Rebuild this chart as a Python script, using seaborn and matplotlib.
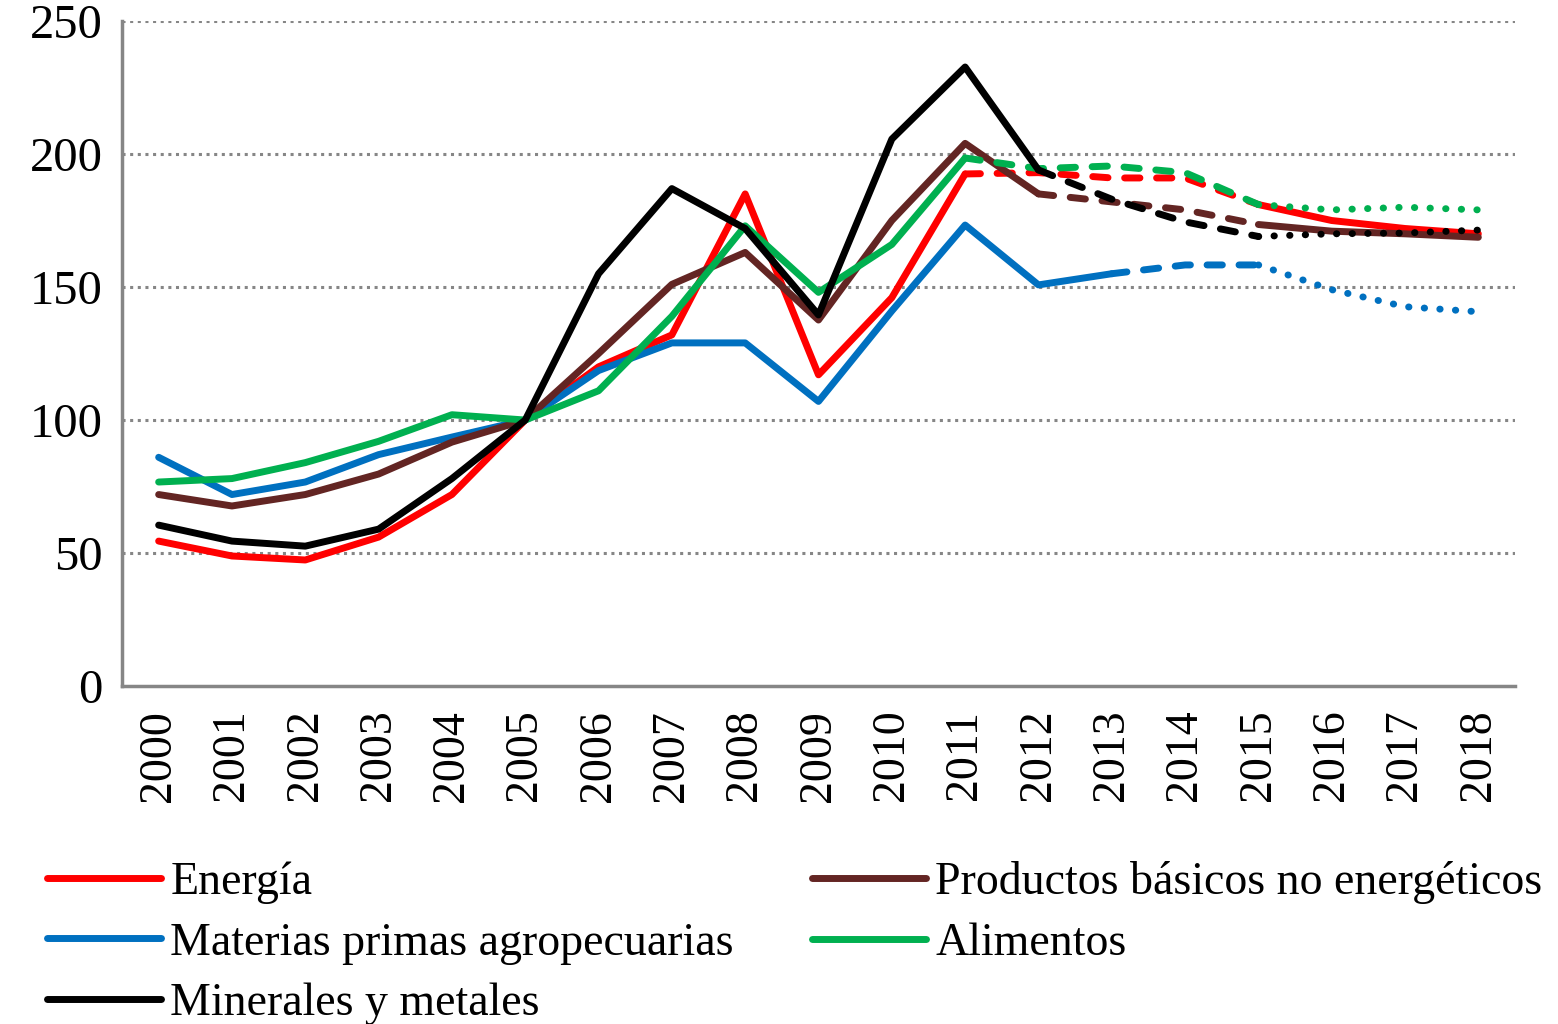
import seaborn as sns
import matplotlib.pyplot as plt
from matplotlib.lines import Line2D
import pandas as pd

years = list(range(2000, 2019))

energia = [54.5, 48.9, 47.4, 56, 72, 100, 120, 132, 185, 117, 146, 192.5, 193, 191, 191, 181, 175, 172, 170]
materias = [86, 72, 76.7, 87, 93.6, 100, 118.6, 129, 129, 107, 141, 173.3, 150.8, 155, 158.3, 158.3, 149, 142.6, 140.7]
minerales = [60.5, 54.5, 52.6, 59, 78, 100, 155, 187, 172, 139.5, 205.6, 232.7, 194, 183, 174.5, 169, 170, 170.3, 171.4]
productos = [72, 67.7, 72, 79.7, 91.7, 100, 125, 151, 163, 137.6, 175, 204, 185, 182, 179, 173.5, 171, 170, 168.7]
alimentos = [76.7, 78, 84, 92, 102, 100, 111, 139, 173, 148, 166, 198.5, 194.5, 195.5, 193, 181, 179, 180, 179]

labels = ["Energía", "Materias primas agropecuarias", "Minerales y metales",
          "Productos básicos no energéticos", "Alimentos"]
colors = ["#FF0000", "#0070C0", "#000000", "#632523", "#00B050"]

# line segments: (from year, to year, style)
segments = {
    "Energía": [(2000, 2011, "solid"), (2011, 2015, "dash"), (2015, 2018, "solid")],
    "Materias primas agropecuarias": [(2000, 2013, "solid"), (2013, 2015, "dash"), (2015, 2018, "dot")],
    "Minerales y metales": [(2000, 2012, "solid"), (2012, 2015, "dash"), (2015, 2018, "dot")],
    "Productos básicos no energéticos": [(2000, 2012, "solid"), (2012, 2015, "dash"), (2015, 2018, "solid")],
    "Alimentos": [(2000, 2011, "solid"), (2011, 2015, "dash"), (2015, 2018, "dot")],
}

series = dict(zip(labels, [energia, materias, minerales, productos, alimentos]))
df = pd.DataFrame({"year": years, **series})

sns.set_theme(style="white")
plt.rcParams["font.family"] = ["Liberation Serif", "DejaVu Serif"]
plt.rcParams["text.color"] = "black"
plt.rcParams["xtick.labelcolor"] = "black"
plt.rcParams["ytick.labelcolor"] = "black"

fig = plt.figure(figsize=(15.58, 10.24), dpi=100)
ax = fig.add_axes([0.0783, 0.330, 0.8941, 0.6495])

lw = 5.0
styles = {"solid": "-", "dash": (0, (2.2, 2.4)), "dot": (0, (0.05, 2.2))}
draw_order = ["Energía", "Materias primas agropecuarias", "Productos básicos no energéticos",
              "Alimentos", "Minerales y metales"]
for name in draw_order:
    col = colors[labels.index(name)]
    for a, b, st in segments[name]:
        sub = df[(df["year"] >= a) & (df["year"] <= b)]
        sns.lineplot(data=sub, x="year", y=name, ax=ax, color=col, lw=lw,
                     linestyle=styles[st], solid_capstyle="round",
                     dash_capstyle="round", solid_joinstyle="round",
                     dash_joinstyle="round")

ax.set_xlim(1999.5, 2018.5)
ax.set_ylim(0, 250)
ax.set_yticks(range(0, 251, 50))
ax.set_xticks(years)
ax.set_xticklabels([str(y) for y in years], rotation=90, fontsize=33)
ax.set_xticks([y - 0.5 for y in years] + [2018.5], minor=True)
ax.tick_params(axis="x", which="major", length=0, pad=17, labelcolor="black")
ax.tick_params(axis="x", which="minor", length=10, width=2.5, color="#868686", direction="out")
ax.tick_params(axis="y", labelsize=35, length=10, width=2.5, color="#868686",
               direction="out", pad=4, labelcolor="black")
ax.set_xlabel("")
ax.set_ylabel("")

for v in range(50, 251, 50):
    ax.axhline(v, color="#868686", lw=2.2, linestyle=(0, (1, 1.5)), zorder=0)

for s in ["top", "right"]:
    ax.spines[s].set_visible(False)
for s in ["left", "bottom"]:
    ax.spines[s].set_color("#868686")
    ax.spines[s].set_linewidth(2.5)

def handle(c):
    return Line2D([], [], color=c, lw=lw, solid_capstyle="round")

leg_kw = dict(frameon=False, fontsize=33, handlelength=2.5, handletextpad=0.2,
              labelspacing=0.4, borderpad=0, borderaxespad=0)
fig.legend([handle(c) for c in colors[:3]], labels[:3], loc="upper left",
           bbox_to_anchor=(0.030, 0.159), **leg_kw)
fig.legend([handle(c) for c in colors[3:]], labels[3:], loc="upper left",
           bbox_to_anchor=(0.521, 0.159), **leg_kw)

fig.savefig("out.png", dpi=100)
